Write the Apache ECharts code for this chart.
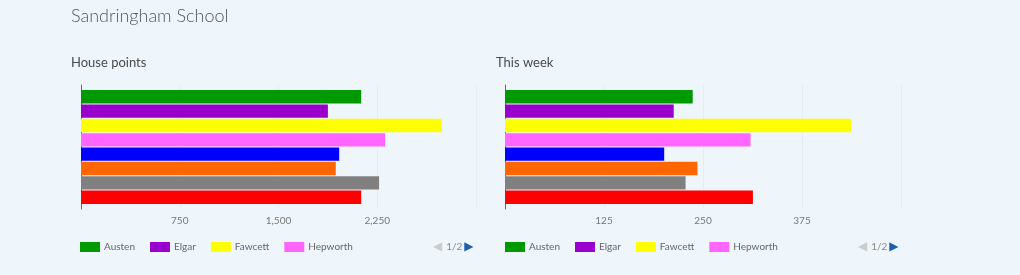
<!DOCTYPE html>
<html>
<head>
<meta charset="utf-8">
<script src="https://cdn.jsdelivr.net/npm/echarts@6/dist/echarts.min.js"></script>
<style>
html,body{margin:0;padding:0;background:#EEF6FC;}
#c{width:1020px;height:275px;}
</style>
</head>
<body>
<div id="c"></div>
<script>
// ---- data ----
const houses = ['Austen', 'Elgar', 'Fawcett', 'Hepworth', 'Lister', 'Nightingale', 'Turing', 'Wilberforce'];
const houseColors = ['#009900', '#9900CC', '#FFFF00', '#FF66FF', '#0000FF', '#FF6600', '#808080', '#FF0000'];
const housePoints = [2128, 1875, 2741, 2310, 1961, 1935, 2264, 2128];
const thisWeek = [237, 213, 437, 310, 201, 243, 228, 313];
const legendPage1 = ['Austen', 'Elgar', 'Fawcett', 'Hepworth'];
const chartTitle = 'Sandringham School';
const panelTitles = ['House points', 'This week'];
const axisMax = [3000, 500];
const axisStep = [750, 125];

const FONT = 'Lato, "Open Sans", sans-serif';
const chart = echarts.init(document.getElementById('c'), null, {renderer: 'canvas'});

const grids = [
  {left: 81, top: 85, width: 395, height: 124},
  {left: 505, top: 85, width: 396, height: 124}
];

function xAxis(i) {
  return {
    type: 'value', gridIndex: i, min: 0, max: axisMax[i], interval: axisStep[i],
    axisLine: {show: false}, axisTick: {show: false},
    axisLabel: {showMinLabel: false, showMaxLabel: false, color: '#777', fontSize: 10, fontFamily: FONT, margin: 7},
    splitLine: {show: true, lineStyle: {color: '#E4EDF5', width: 1}}
  };
}
function yAxis(i) {
  return {
    type: 'category', gridIndex: i, data: [''], inverse: true,
    axisLine: {show: true, lineStyle: {color: '#666', width: 1}},
    axisTick: {show: false}, axisLabel: {show: false}, splitLine: {show: false}
  };
}

const series = [];
[housePoints, thisWeek].forEach((vals, g) => {
  houses.forEach((h, k) => {
    series.push({
      type: 'bar', name: h, xAxisIndex: g, yAxisIndex: g,
      data: [vals[k]], barWidth: 13.4, barGap: '7%',
      itemStyle: {color: houseColors[k]}, silent: true
    });
  });
});

function legend(left) {
  return {
    type: 'plain', left: left, top: 242, padding: 0, itemGap: 15,
    itemWidth: 20, itemHeight: 10, icon: 'rect', data: legendPage1,
    textStyle: {color: '#666', fontSize: 10, fontFamily: FONT, padding: [0, 0, 0, -1]}
  };
}

function pager(left) {
  return {
    type: 'text', left: left, top: 241,
    style: {
      text: '{a|◀}{b|1/2}{c|▶}',
      rich: {
        a: {fill: '#CCCCCC', fontSize: 12, fontFamily: 'DejaVu Sans', padding: [0, 2, 0, 0]},
        b: {fill: '#888', fontSize: 10, fontFamily: FONT, padding: [0, 2, 0, 2]},
        c: {fill: '#1F5FAA', fontSize: 12, fontFamily: 'DejaVu Sans'}
      }
    }
  };
}

chart.setOption({
  backgroundColor: '#EEF6FC',
  animation: false,
  title: [
    {text: chartTitle, left: 71, top: 7, padding: 0,
     textStyle: {fontFamily: FONT, fontSize: 18, fontWeight: 300, color: '#555'}},
    {text: panelTitles[0], left: 71, top: 56, padding: 0,
     textStyle: {fontFamily: FONT, fontSize: 13, fontWeight: 'normal', color: '#4a4a4a'}},
    {text: panelTitles[1], left: 496, top: 56, padding: 0,
     textStyle: {fontFamily: FONT, fontSize: 13, fontWeight: 'normal', color: '#4a4a4a'}}
  ],
  grid: grids,
  xAxis: [xAxis(0), xAxis(1)],
  yAxis: [yAxis(0), yAxis(1)],
  legend: [legend(80), legend(505)],
  graphic: [pager(433), pager(858)],
  series: series
});
</script>
</body>
</html>
